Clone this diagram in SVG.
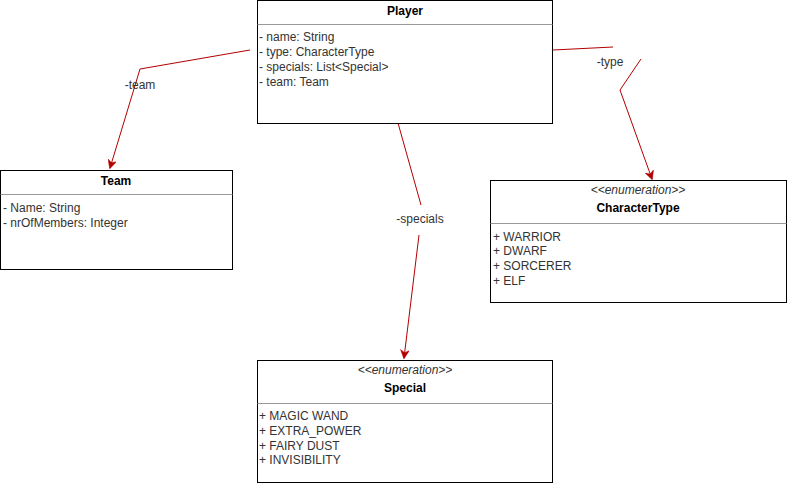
<svg xmlns="http://www.w3.org/2000/svg" width="787" height="484" viewBox="0 0 787 484">
<defs>
<marker id="arr" viewBox="0 0 10 10" refX="9" refY="5" markerWidth="9" markerHeight="9" markerUnits="userSpaceOnUse" orient="auto">
<path d="M0,0 L10,5 L0,10 L3,5 z" fill="#B20000" stroke="#B20000" stroke-width="0.5"/>
</marker>
<style>
.box{fill:#fff;stroke:#000;stroke-width:1}
.div{stroke:#999;stroke-width:1}
.t{font-family:"Liberation Sans",Arial,sans-serif;font-size:12px;fill:#000;font-weight:bold;text-anchor:middle}
.st{font-family:"Liberation Sans",Arial,sans-serif;font-size:12px;fill:#333;font-style:italic;text-anchor:middle}
.a{font-family:"Liberation Sans",Arial,sans-serif;font-size:12px;fill:#333}
.lbl{font-family:"Liberation Sans",Arial,sans-serif;font-size:12px;fill:#333;text-anchor:middle}
.c{fill:none;stroke:#B20000;stroke-width:1}
</style>
</defs>
<rect width="787" height="484" fill="#fff"/>
<g id="connectors">
<path class="c" d="M250,50 L140,69 L110,168" marker-end="url(#arr)"/>
<path class="c" d="M553,50 L613,47 M641,59 L620,90 L652,179" marker-end="url(#arr)"/>
<path class="c" d="M398,123 L421,205 M419,235 L404,358" marker-end="url(#arr)"/>
<text class="lbl" x="140" y="89">-team</text>
<text class="lbl" x="610" y="66">-type</text>
<text class="lbl" x="420" y="223">-specials</text>
</g>
<g id="player">
<rect class="box" x="257.5" y="0.5" width="295" height="123"/>
<line class="div" x1="257.5" y1="24.5" x2="552.5" y2="24.5"/>
<text class="t" x="405" y="15">Player</text>
<text class="a" x="259" y="41">- name: String</text>
<text class="a" x="259" y="56">- type: CharacterType</text>
<text class="a" x="259" y="71">- specials: List&lt;Special&gt;</text>
<text class="a" x="259" y="86">- team: Team</text>
</g>
<g id="team">
<rect class="box" x="0.5" y="170.5" width="232" height="99"/>
<line class="div" x1="0.5" y1="194.5" x2="232.5" y2="194.5"/>
<text class="t" x="116" y="185">Team</text>
<text class="a" x="3" y="212">- Name: String</text>
<text class="a" x="3" y="227">- nrOfMembers: Integer</text>
</g>
<g id="charactertype">
<rect class="box" x="490.5" y="180.5" width="296" height="122"/>
<line class="div" x1="490.5" y1="223.5" x2="786.5" y2="223.5"/>
<text class="st" x="638" y="194">&lt;&lt;enumeration&gt;&gt;</text>
<text class="t" x="638" y="212">CharacterType</text>
<text class="a" x="493" y="241">+ WARRIOR</text>
<text class="a" x="493" y="255">+ DWARF</text>
<text class="a" x="493" y="270">+ SORCERER</text>
<text class="a" x="493" y="285">+ ELF</text>
</g>
<g id="special">
<rect class="box" x="257.5" y="360.5" width="295" height="122"/>
<line class="div" x1="257.5" y1="403.5" x2="552.5" y2="403.5"/>
<text class="st" x="405" y="374">&lt;&lt;enumeration&gt;&gt;</text>
<text class="t" x="405" y="392">Special</text>
<text class="a" x="259" y="420">+ MAGIC WAND</text>
<text class="a" x="259" y="435">+ EXTRA_POWER</text>
<text class="a" x="259" y="450">+ FAIRY DUST</text>
<text class="a" x="259" y="464">+ INVISIBILITY</text>
</g>
</svg>
